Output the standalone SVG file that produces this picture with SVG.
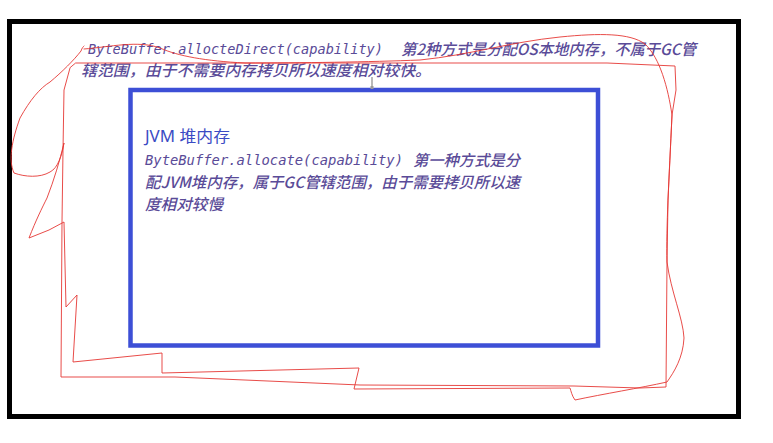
<svg xmlns="http://www.w3.org/2000/svg" width="773" height="443" viewBox="0 0 773 443">
  <style>
    .mono { font-family: "DejaVu Sans Mono", "Liberation Mono", monospace; font-style: italic; font-size: 14px; fill: #5a4b98; }
    .cjk { font-family: "Noto Sans CJK SC", "Noto Sans", sans-serif; font-style: italic; font-weight: 500; font-size: 15.5px; fill: #5a4b98; }
    .title { font-family: "Noto Sans", "Noto Sans CJK SC", sans-serif; font-size: 15.5px; fill: #3b4bc4; }
    .ink { fill: none; stroke: #e53935; stroke-width: 1; stroke-linejoin: round; stroke-linecap: round; opacity: 0.9; }
  </style>
  <rect width="773" height="443" fill="#ffffff"/>

  <g id="outer-frame">
    <rect x="9.5" y="21.5" width="729" height="395" fill="none" stroke="#000000" stroke-width="5"/>
    <text class="mono" x="88" y="54" textLength="295" lengthAdjust="spacingAndGlyphs">ByteBuffer.allocteDirect(capability)</text>
    <text class="cjk" x="401" y="55" textLength="295" lengthAdjust="spacingAndGlyphs">第2种方式是分配OS本地内存，不属于GC管</text>
    <text class="cjk" x="81" y="76" textLength="350" lengthAdjust="spacingAndGlyphs">辖范围，由于不需要内存拷贝所以速度相对较快。</text>
  </g>

  <g id="jvm-heap">
    <rect x="130.5" y="90" width="467.5" height="255.5" fill="none" stroke="#3d4fd6" stroke-width="4.5"/>
    <line x1="372" y1="77" x2="372" y2="88" stroke="#8a8a8a" stroke-width="1.2"/>
    <rect x="370.5" y="86" width="3" height="3" fill="#9a9a9a"/>
    <text class="title" x="145" y="142" textLength="85" lengthAdjust="spacingAndGlyphs">JVM 堆内存</text>
    <text class="mono" x="145" y="165" textLength="258" lengthAdjust="spacingAndGlyphs">ByteBuffer.allocate(capability)</text>
    <text class="cjk" x="413" y="166" textLength="107" lengthAdjust="spacingAndGlyphs">第一种方式是分</text>
    <text class="cjk" x="145" y="188" textLength="375" lengthAdjust="spacingAndGlyphs">配JVM堆内存，属于GC管辖范围，由于需要拷贝所以速</text>
    <text class="cjk" x="145" y="210" textLength="78" lengthAdjust="spacingAndGlyphs">度相对较慢</text>
  </g>

  <g id="annotations">
    <path class="ink" d="M 84,49 C 110,47 138,40 160,48 C 178,56 205,61 245,63 C 300,63 370,62 420,60 C 470,55 510,42 560,37 C 600,33 630,33 645,44 C 660,58 668,88 672,115 C 669,180 666,228 667,262 C 671,292 683,318 684,338 C 683,358 674,372 667,382 C 640,388 603,394 575,400 C 572,396 571,391 570,388 L 354,389 L 359,368 L 162,373 L 162,353 L 73,362 L 77,295 L 66,307 L 64,222 L 49,230 L 29,238 C 36,220 42,208 47,198 C 54,180 60,160 64,143 C 62,155 58,168 50,172 C 40,178 25,177 14,173 C 8,160 12,140 20,118 C 30,100 40,88 50,82 C 62,72 74,60 81,51 C 82,48 83,47 84,46"/>
    <path class="ink" d="M 76,63 L 430,63 L 607,63 L 675,66 L 676,90 L 672,115 L 668,200 L 667,262 L 666,387 L 640,388 L 574,386 L 360,385 L 175,377 L 61,377 L 62,222 L 63,150 L 64,90 L 70,68 Z"/>
  </g>
</svg>
